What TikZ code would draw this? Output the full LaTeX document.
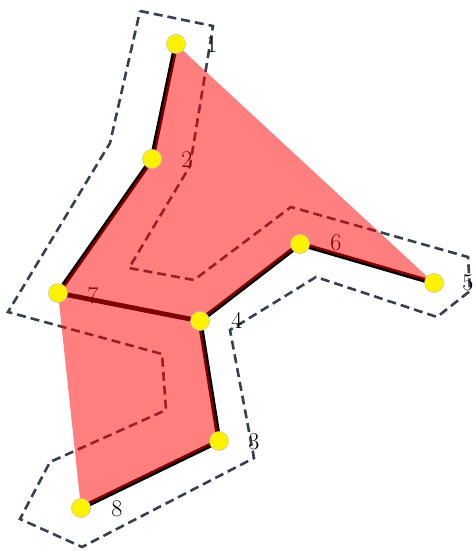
\documentclass[tikz,border=0pt]{standalone}
\begin{document}
\begin{tikzpicture}[x=1pt,y=-1pt,
  dashline/.style={draw={rgb,255:red,55;green,63;blue,80},line width=2.6pt,dash pattern=on 9pt off 5pt},
  edge/.style={draw=black,line width=4.8pt,line join=round,line cap=round},
  lab/.style={font=\fontsize{24}{24}\selectfont,text=black,inner sep=0pt},
  pt/.style={circle,fill=yellow,draw={rgb,255:red,200;green,200;blue,150},line width=0.6pt,minimum size=19pt,inner sep=0pt}]
\useasboundingbox (0,0) rectangle (475,551);
\coordinate (p1) at (176,44);
\coordinate (p2) at (152,159);
\coordinate (p3) at (219,441);
\coordinate (p4) at (200,321);
\coordinate (p5) at (434,283);
\coordinate (p6) at (300,244);
\coordinate (p7) at (58,293);
\coordinate (p8) at (81,508);
% dashed buffer outline
\draw[dashline] (140,11) -- (213,26) -- (190,166) -- (129,268) -- (194,280) -- (291,207) -- (468,257) -- (470,291) -- (437,317) -- (316,277) -- (230,330) -- (254,458) -- (82,547) -- (20,519) -- (50,462) -- (166,410) -- (162,354) -- (8,312) -- (110,143) -- cycle;
% thick black path
\draw[edge] (p1) -- (p2) -- (p7) -- (p4) -- (p6) -- (p5);
\draw[edge] (p4) -- (p3) -- (p8);
% labels
\node[lab] (l1) at ([xshift=36pt,yshift=-1pt]p1) {1};
\node[lab] (l2) at ([xshift=35pt,yshift=-1pt]p2) {2};
\node[lab] (l3) at ([xshift=35pt,yshift=-1pt]p3) {3};
\node[lab] (l4) at ([xshift=37pt,yshift=1pt]p4) {4};
\node[lab] (l5) at ([xshift=34pt,yshift=0pt]p5) {5};
\node[lab] (l6) at ([xshift=36pt,yshift=1pt]p6) {6};
\node[lab] (l7) at ([xshift=35pt,yshift=-3pt]p7) {7};
\node[lab] (l8) at ([xshift=36pt,yshift=-1pt]p8) {8};
% translucent polygon
\fill[red,fill opacity=0.5] (p1) -- (p5) -- (p6) -- (p4) -- (p3) -- (p8) -- (p7) -- (p2) -- cycle;
% points
\foreach \i in {1,...,8} \node[pt] (n\i) at (p\i) {};
\end{tikzpicture}
\end{document}
